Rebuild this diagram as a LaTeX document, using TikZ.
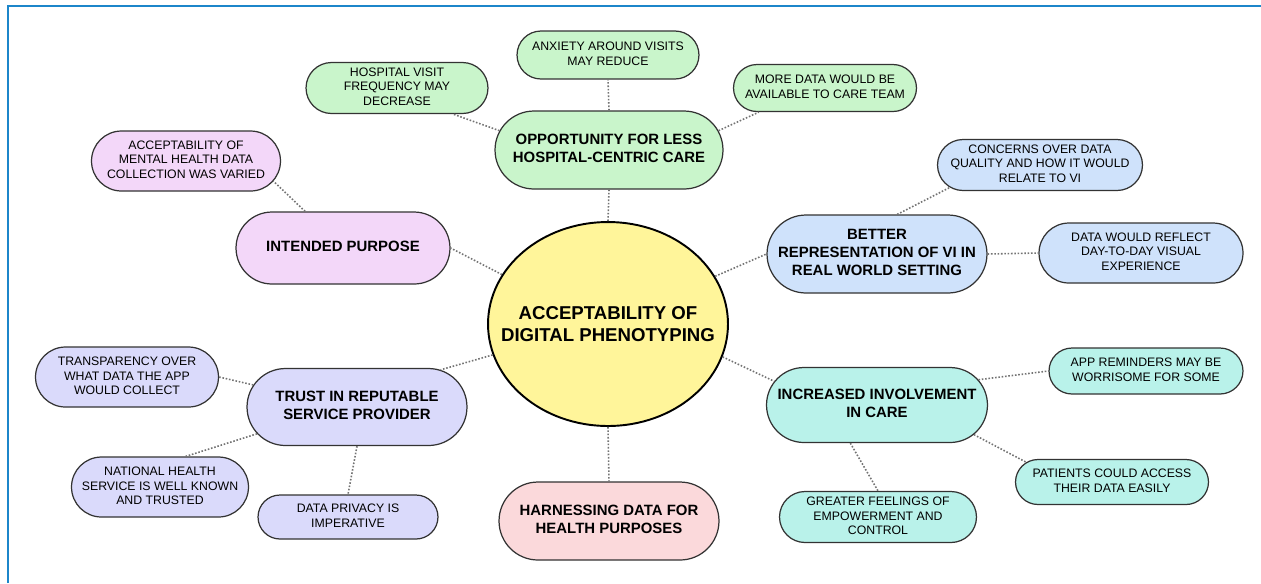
\documentclass[tikz,border=0pt]{standalone}
\usepackage{fontspec}
\setmainfont{Liberation Sans}
\usetikzlibrary{shapes.geometric, shapes.misc}
\definecolor{frameblue}{RGB}{28,134,202}
\definecolor{hubyellow}{RGB}{255,245,154}
\definecolor{oppgreen}{RGB}{201,245,203}
\definecolor{purposepurple}{RGB}{243,215,249}
\definecolor{realblue}{RGB}{207,226,251}
\definecolor{trustlav}{RGB}{218,218,251}
\definecolor{harnesspink}{RGB}{251,217,219}
\definecolor{careteal}{RGB}{185,242,234}
% centred lines of zero width, so the box keeps its given size
\newcommand\celltext[1]{\makebox[0pt]{\begin{tabular}{@{}c@{}}#1\end{tabular}}}

\begin{document}
\begin{tikzpicture}[x=0.02cm, y=-0.02cm,
hub/.style={ellipse, draw=black, line width=1.1pt, fill=hubyellow, inner xsep=-13pt, inner ysep=0pt,
  minimum width=4.8cm, minimum height=4.08cm, align=center, font=\fontsize{10.6}{12.3}\selectfont\bfseries},
topic/.style={rounded rectangle, draw=black!80, line width=0.7pt, inner xsep=0pt, inner ysep=1pt,
  font=\fontsize{8.5}{10.4}\selectfont\bfseries},
leaf/.style={rounded rectangle, draw=black!80, line width=0.7pt, inner xsep=0pt, inner ysep=1pt,
  font=\fontsize{7}{8.5}\selectfont},
link/.style={densely dotted, draw=black!55, line width=0.9pt}]
\useasboundingbox (0,0) rectangle (1261,583);
\draw[frameblue, line width=1.2pt] (8,583) -- (8,6) -- (1261,6);
% centre
\node[hub] (hub) at (608,324) {ACCEPTABILITY OF\\DIGITAL PHENOTYPING};
% themes
\node[topic, fill=oppgreen, minimum width=4.56cm, minimum height=1.56cm] (opp) at (609,150) {\celltext{OPPORTUNITY FOR LESS\\HOSPITAL-CENTRIC CARE}};
\node[topic, fill=purposepurple, minimum width=4.28cm, minimum height=1.44cm] (purpose) at (343,248) {\celltext{INTENDED PURPOSE}};
\node[topic, fill=realblue, minimum width=4.4cm, minimum height=1.56cm] (real) at (877,254) {\celltext{BETTER\\REPRESENTATION OF VI IN\\REAL WORLD SETTING}};
\node[topic, fill=trustlav, minimum width=4.4cm, minimum height=1.54cm] (trust) at (357,407) {\celltext{TRUST IN REPUTABLE\\SERVICE PROVIDER}};
\node[topic, fill=harnesspink, minimum width=4.4cm, minimum height=1.56cm] (harness) at (609,521) {\celltext{HARNESSING DATA FOR\\HEALTH PURPOSES}};
\node[topic, fill=careteal, minimum width=4.42cm, minimum height=1.5cm] (care) at (877,405) {\celltext{INCREASED INVOLVEMENT\\IN CARE}};
% sub-themes
\node[leaf, fill=oppgreen, minimum width=3.64cm, minimum height=0.96cm] (anxiety) at (608,55) {\celltext{ANXIETY AROUND VISITS\\MAY REDUCE}};
\node[leaf, fill=oppgreen, minimum width=3.64cm, minimum height=1.02cm] (visits) at (397,88) {\celltext{HOSPITAL VISIT\\FREQUENCY MAY\\DECREASE}};
\node[leaf, fill=oppgreen, minimum width=3.66cm, minimum height=0.94cm] (moredata) at (825,88) {\celltext{MORE DATA WOULD BE\\AVAILABLE TO CARE TEAM}};
\node[leaf, fill=purposepurple, minimum width=3.78cm, minimum height=1.2cm] (mental) at (186,161) {\celltext{ACCEPTABILITY OF\\MENTAL HEALTH DATA\\COLLECTION WAS VARIED}};
\node[leaf, fill=realblue, minimum width=4.1cm, minimum height=1.02cm] (quality) at (1040,165) {\celltext{CONCERNS OVER DATA\\QUALITY AND HOW IT WOULD\\RELATE TO VI}};
\node[leaf, fill=realblue, minimum width=4.08cm, minimum height=1.2cm] (daily) at (1141,253) {\celltext{DATA WOULD REFLECT\\DAY-TO-DAY VISUAL\\EXPERIENCE}};
\node[leaf, fill=trustlav, minimum width=3.66cm, minimum height=1.2cm] (transp) at (127,377) {\celltext{TRANSPARENCY OVER\\WHAT DATA THE APP\\WOULD COLLECT}};
\node[leaf, fill=trustlav, minimum width=3.54cm, minimum height=1.2cm] (nhs) at (160,487) {\celltext{NATIONAL HEALTH\\SERVICE IS WELL KNOWN\\AND TRUSTED}};
\node[leaf, fill=trustlav, minimum width=3.6cm, minimum height=0.88cm] (privacy) at (348,517) {\celltext{DATA PRIVACY IS\\IMPERATIVE}};
\node[leaf, fill=careteal, minimum width=3.88cm, minimum height=0.92cm] (remind) at (1146,371) {\celltext{APP REMINDERS MAY BE\\WORRISOME FOR SOME}};
\node[leaf, fill=careteal, minimum width=3.86cm, minimum height=0.9cm] (access) at (1112,482) {\celltext{PATIENTS COULD ACCESS\\THEIR DATA EASILY}};
\node[leaf, fill=careteal, minimum width=3.94cm, minimum height=1.02cm] (empower) at (878,517) {\celltext{GREATER FEELINGS OF\\EMPOWERMENT AND\\CONTROL}};
% links
\draw[link] (hub.north) -- (opp.south);
\draw[link] (hub.155) -- (purpose.east);
\draw[link] (hub.24) -- (real.west);
\draw[link] (hub.195) -- (trust.24);
\draw[link] (hub.south) -- (harness.north);
\draw[link] (hub.-16) -- (care.167);
\draw[link] (opp.north) -- (anxiety.south);
\draw[link] (opp.170) -- (visits.335);
\draw[link] (opp.10) -- (moredata.200);
\draw[link] (purpose.136) -- (mental.347);
\draw[link] (real.63) -- (quality.194);
\draw[link] (real.east) -- (daily.west);
\draw[link] (trust.168) -- (transp.east);
\draw[link] (trust.195) -- (nhs.50);
\draw[link] (trust.south) -- (privacy.north);
\draw[link] (care.14) -- (remind.west);
\draw[link] (care.-17) -- (access.167);
\draw[link] (care.235) -- (empower.north);
\end{tikzpicture}
\end{document}
